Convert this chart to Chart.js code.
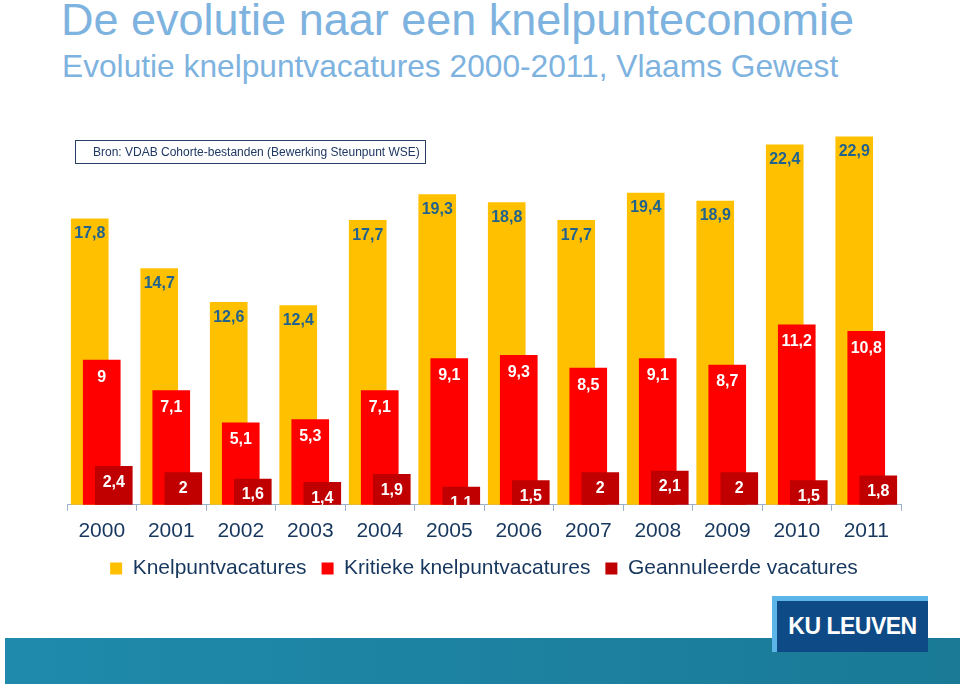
<!DOCTYPE html>
<html><head><meta charset="utf-8">
<script src="https://cdn.jsdelivr.net/npm/chart.js@4/dist/chart.umd.min.js"></script>
<style>
html,body{margin:0;padding:0;background:#fff;width:960px;height:686px;overflow:hidden;font-family:"Liberation Sans",Arial,sans-serif;}
#t1{position:absolute;left:61px;top:-6px;font-size:45px;color:#7EB3DF;white-space:nowrap;}
#t2{position:absolute;left:62px;top:48px;font-size:31.7px;color:#7EB3DF;white-space:nowrap;}
#src{position:absolute;left:75px;top:140px;width:351px;height:24px;border:1px solid #2A3F66;box-sizing:border-box;font-size:12px;color:#1F3864;line-height:22px;padding-left:17px;white-space:nowrap;}
#band{position:absolute;left:5px;top:638px;width:955px;height:46px;background:linear-gradient(to right,#1F8AAC,#1A7A96);}
#logoL{position:absolute;left:772px;top:596px;width:156px;height:56px;background:#5BB5E8;}
#logo{position:absolute;left:777px;top:601px;width:151px;height:51px;background:#0E4A86;color:#fff;font-weight:bold;font-size:23px;line-height:51px;text-align:center;letter-spacing:-0.5px;}
#wrap{position:absolute;left:0;top:100px;width:960px;height:493px;}
</style></head>
<body>
<div id="t1">De evolutie naar een knelpunteconomie</div>
<div id="t2">Evolutie knelpuntvacatures 2000-2011, Vlaams Gewest</div>
<div id="band"></div>
<div id="logoL"></div>
<div id="logo">KU LEUVEN</div>
<div id="wrap"><canvas id="c" width="960" height="493"></canvas></div>
<div id="src">Bron: VDAB Cohorte-bestanden (Bewerking Steunpunt WSE)</div>
<script>
const years = ['2000','2001','2002','2003','2004','2005','2006','2007','2008','2009','2010','2011'];
const knelpunt = [17.8,14.7,12.6,12.4,17.7,19.3,18.8,17.7,19.4,18.9,22.4,22.9];
const kritiek = [9,7.1,5.1,5.3,7.1,9.1,9.3,8.5,9.1,8.7,11.2,10.8];
const geannuleerd = [2.4,2,1.6,1.4,1.9,1.1,1.5,2,2.1,2,1.5,1.8];
const seriesNames = ['Knelpuntvacatures','Kritieke knelpuntvacatures','Geannuleerde vacatures'];

const shift = 0.173;
function pts(arr, off){ return arr.map((v,i)=>({x:i+off,y:v})); }

const labelPlugin = {
  id:'valLabels',
  afterDatasetsDraw(chart){
    const ctx = chart.ctx;
    const cfg = [{c:'#22638E',dy:15},{c:'#ffffff',dy:17},{c:'#ffffff',dy:16}];
    ctx.save();
    ctx.font = 'bold 16px "Liberation Sans", Arial, sans-serif';
    ctx.textAlign='center'; ctx.textBaseline='middle';
    chart.data.datasets.forEach((ds,di)=>{
      const meta = chart.getDatasetMeta(di);
      meta.data.forEach((el,i)=>{
        const v = ds.data[i].y;
        ctx.fillStyle = cfg[di].c;
        ctx.fillText(String(v).replace('.',','), el.x, el.y + cfg[di].dy);
      });
    });
    ctx.restore();
  }
};

const FONT = '"Liberation Sans", Arial, sans-serif';
new Chart(document.getElementById('c'),{
  type:'bar',
  data:{
    labels: years,
    datasets:[
      {label:seriesNames[0],data:pts(knelpunt,-shift),backgroundColor:'#FFC000',order:3},
      {label:seriesNames[1],data:pts(kritiek,0),backgroundColor:'#FF0000',order:2},
      {label:seriesNames[2],data:pts(geannuleerd,shift),backgroundColor:'#C00000',order:1}
    ].map(d=>Object.assign(d,{xAxisID:'xb',yAxisID:'y',grouped:false,barThickness:37,borderWidth:0}))
  },
  options:{
    responsive:false,animation:false,
    layout:{padding:{left:67,right:59,top:3,bottom:4}},
    plugins:{
      legend:{position:'bottom',labels:{font:{size:21,family:FONT},color:'#17375E',boxWidth:12,boxHeight:12,padding:15,
        sort:(a,b)=>a.datasetIndex-b.datasetIndex}},
      tooltip:{enabled:false},
      title:{display:false}
    },
    scales:{
      x:{type:'category',labels:years,offset:true,position:'bottom',
         afterFit:(s)=>{s.height-=9;},
         grid:{display:true,offset:true,drawOnChartArea:false,drawTicks:true,tickLength:6,color:'#9BB0CC'},
         border:{display:true,color:'#9BB0CC'},
         ticks:{font:{size:21,family:FONT},color:'#17375E',padding:8,maxRotation:0,autoSkip:false}},
      xb:{type:'linear',display:false,min:-0.5,max:11.5,offset:false,grid:{offset:false}},
      y:{type:'linear',display:false,min:0,max:25}
    }
  },
  plugins:[labelPlugin]
});
</script>
</body></html>
